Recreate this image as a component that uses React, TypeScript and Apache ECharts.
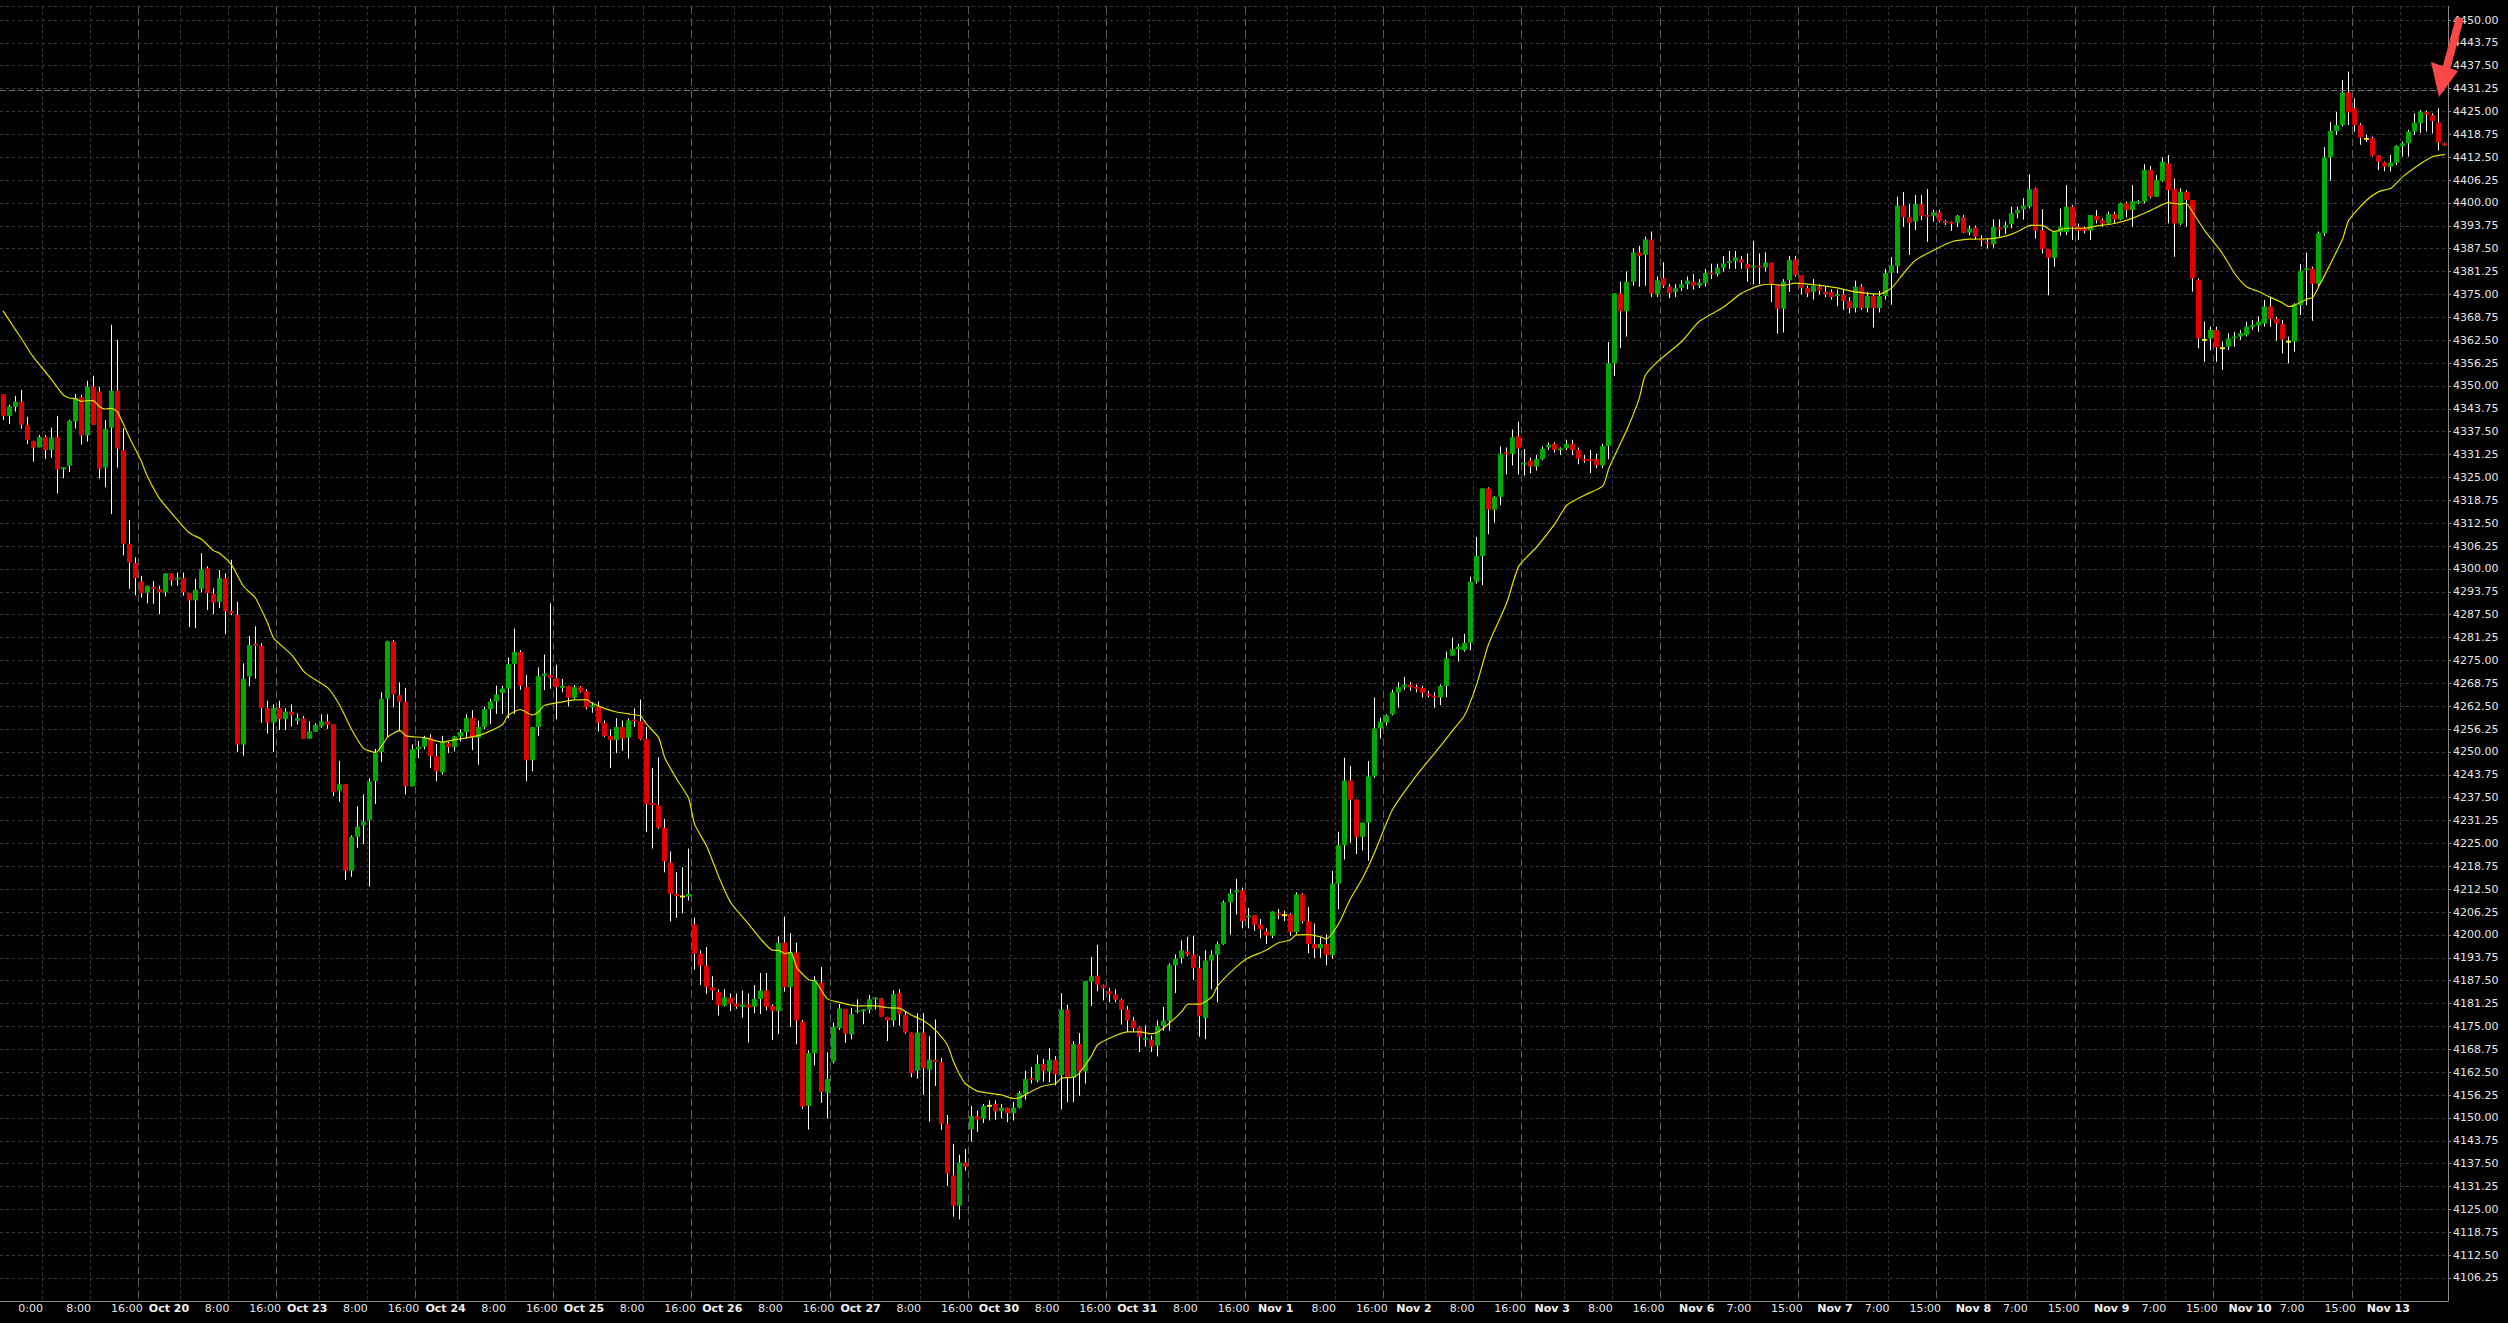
import React, { useEffect, useRef } from 'react';
import * as echarts from 'echarts';

// Each candle: [open, high, low, close] — hourly bars
const candlesOct19: number[][] = [
  [4347.8, 4347.8, 4340.7, 4341.8], [4341.8, 4344.8, 4339.6, 4344.4], [4344.3, 4347.3, 4343.0, 4345.7],
  [4345.7, 4348.9, 4338.3, 4339.4], [4339.4, 4341.6, 4334.1, 4335.3], [4335.0, 4335.0, 4329.3, 4333.2],
  [4333.2, 4336.6, 4333.2, 4336.1], [4336.1, 4336.6, 4330.1, 4332.5], [4332.5, 4338.6, 4330.4, 4335.9],
  [4336.1, 4341.8, 4320.6, 4327.2], [4327.2, 4327.8, 4324.8, 4327.8], [4328.2, 4340.7, 4326.5, 4340.4],
  [4340.3, 4347.8, 4338.4, 4346.7], [4347.0, 4347.6, 4334.0, 4336.5], [4336.5, 4351.4, 4334.8, 4349.8],
  [4349.8, 4352.8, 4339.4, 4339.4], [4348.5, 4349.8, 4324.7, 4327.4], [4327.7, 4340.7, 4322.3, 4338.3],
  [4338.6, 4366.7, 4315.0, 4348.7], [4348.7, 4362.6, 4327.7, 4332.9], [4332.5, 4338.5, 4303.7, 4306.9],
  [4306.8, 4313.4, 4294.6, 4301.7], [4301.6, 4303.2, 4292.8, 4297.5], [4296.6, 4298.1, 4292.2, 4293.4],
  [4293.5, 4295.4, 4290.6, 4295.4], [4295.0, 4296.7, 4290.5, 4294.6], [4294.5, 4295.4, 4287.6, 4293.6],
  [4293.6, 4298.8, 4292.5, 4298.8], [4298.8, 4298.8, 4295.4, 4296.8], [4297.1, 4299.0, 4295.4, 4297.6],
  [4297.5, 4299.0, 4292.7, 4293.6], [4293.4, 4293.4, 4284.1, 4291.4], [4291.4, 4297.3, 4283.8, 4294.3],
  [4294.6, 4304.3, 4293.6, 4299.9], [4300.2, 4300.7, 4288.8, 4293.4], [4293.2, 4294.7, 4287.6, 4290.8],
  [4291.0, 4299.7, 4289.3, 4297.5], [4297.5, 4298.8, 4282.2, 4288.4], [4288.5, 4302.5, 4287.4, 4287.9],
  [4287.4, 4291.0, 4250.0, 4252.0], [4252.0, 4274.2, 4249.0, 4270.0], [4270.6, 4281.7, 4268.0, 4279.2],
  [4279.5, 4284.3, 4270.0, 4279.1], [4279.0, 4279.7, 4258.0, 4262.0], [4262.0, 4264.0, 4255.0, 4258.0],
  [4258.0, 4263.0, 4250.0, 4262.0], [4262.0, 4264.0, 4256.0, 4259.0], [4259.0, 4262.0, 4256.0, 4261.0],
  [4261.0, 4263.0, 4257.0, 4260.0], [4258.5, 4260.5, 4257.5, 4259.2],
];

const candlesOct23: number[][] = [
  [4259.2, 4259.8, 4253.6, 4253.6], [4253.6, 4258.4, 4253.6, 4255.6], [4255.5, 4257.8, 4255.5, 4257.4],
  [4257.0, 4260.3, 4256.5, 4258.4], [4258.4, 4260.3, 4256.3, 4257.4], [4257.6, 4257.6, 4237.9, 4239.0],
  [4239.4, 4247.6, 4236.4, 4241.2], [4241.2, 4241.2, 4215.0, 4217.5], [4217.5, 4227.2, 4215.9, 4226.8],
  [4226.8, 4235.1, 4223.8, 4229.6], [4229.9, 4238.4, 4224.8, 4231.0], [4231.3, 4242.8, 4213.2, 4242.0],
  [4242.0, 4250.8, 4235.8, 4249.7], [4250.0, 4266.3, 4247.3, 4264.5], [4264.5, 4280.4, 4254.1, 4280.2],
  [4280.2, 4280.6, 4262.2, 4265.7], [4265.5, 4269.0, 4255.6, 4263.7], [4263.7, 4267.5, 4238.4, 4240.6],
  [4240.6, 4252.1, 4240.6, 4250.8], [4250.7, 4253.0, 4248.3, 4251.4], [4251.4, 4254.4, 4250.7, 4253.9],
  [4253.9, 4254.8, 4245.6, 4248.9], [4248.9, 4252.1, 4242.0, 4244.7], [4244.4, 4254.4, 4243.8, 4252.7],
  [4252.4, 4252.7, 4249.7, 4251.3], [4251.3, 4254.4, 4250.1, 4254.2], [4254.2, 4256.2, 4252.9, 4255.4],
  [4255.4, 4260.3, 4253.6, 4259.3], [4259.3, 4261.4, 4250.5, 4253.9], [4253.9, 4258.6, 4246.5, 4256.8],
  [4256.8, 4262.4, 4256.2, 4261.7], [4261.7, 4264.5, 4257.6, 4263.8], [4263.8, 4268.1, 4260.4, 4265.7],
  [4266.1, 4268.1, 4260.4, 4267.3], [4267.3, 4275.8, 4259.2, 4274.0], [4274.0, 4283.7, 4260.4, 4277.3],
  [4277.3, 4277.8, 4267.0, 4268.1], [4267.8, 4271.0, 4242.0, 4247.7], [4247.7, 4256.8, 4244.7, 4256.8],
  [4256.8, 4273.1, 4254.4, 4270.7], [4270.8, 4276.6, 4266.9, 4271.4], [4271.0, 4290.6, 4267.3, 4270.3],
  [4270.1, 4273.8, 4258.9, 4267.7], [4267.5, 4269.9, 4266.3, 4268.1], [4268.0, 4268.1, 4262.4, 4264.8],
  [4264.8, 4268.3, 4264.5, 4267.7], [4267.7, 4268.0, 4266.2, 4266.5], [4266.6, 4267.1, 4261.6, 4262.2],
  [4262.2, 4263.6, 4260.7, 4262.8], [4262.5, 4263.8, 4255.6, 4258.0], [4257.9, 4258.6, 4254.1, 4254.4],
  [4254.4, 4256.2, 4245.6, 4253.3], [4253.3, 4259.2, 4249.7, 4256.8], [4256.8, 4258.6, 4250.3, 4253.6],
  [4253.9, 4259.2, 4248.2, 4258.6], [4258.8, 4261.9, 4256.8, 4258.4], [4258.4, 4264.3, 4253.3, 4253.5],
  [4253.5, 4256.8, 4228.1, 4235.8], [4236.0, 4245.6, 4223.6, 4235.5], [4235.5, 4248.5, 4229.0, 4229.3],
  [4229.3, 4231.7, 4217.1, 4220.1], [4219.8, 4222.8, 4203.7, 4211.2], [4211.2, 4217.1, 4204.7, 4210.6],
  [4210.5, 4218.5, 4205.9, 4210.5], [4210.5, 4223.6, 4209.4, 4211.2], [4202.9, 4204.7, 4190.5, 4194.9],
  [4194.9, 4195.8, 4186.3, 4191.6], [4191.6, 4196.7, 4183.9, 4185.7], [4185.7, 4188.7, 4182.2, 4184.8],
  [4184.5, 4185.1, 4178.0, 4180.7], [4180.7, 4185.1, 4180.4, 4183.0], [4182.8, 4184.0, 4179.2, 4181.2],
  [4181.2, 4184.0, 4179.8, 4180.4], [4180.3, 4184.8, 4177.4, 4181.0], [4181.0, 4184.0, 4170.6, 4180.2],
  [4180.4, 4186.3, 4178.6, 4182.5], [4182.5, 4189.6, 4178.4, 4184.8], [4184.8, 4189.6, 4179.4, 4180.4],
  [4180.6, 4181.0, 4171.3, 4179.2], [4179.2, 4199.6, 4172.9, 4197.8], [4197.9, 4205.0, 4184.5, 4185.7],
  [4185.7, 4200.5, 4174.8, 4195.2], [4195.2, 4197.9, 4170.1, 4176.6], [4176.3, 4176.8, 4152.5, 4153.1],
  [4153.3, 4168.5, 4146.8, 4167.7], [4167.7, 4188.7, 4164.4, 4187.5],
];

const candlesOct27: number[][] = [
  [4187.0, 4191.2, 4154.1, 4157.1], [4156.9, 4167.9, 4149.8, 4160.6], [4165.4, 4176.0, 4164.9, 4174.8],
  [4174.5, 4181.1, 4174.0, 4179.9], [4179.8, 4179.8, 4170.5, 4173.0], [4172.8, 4180.1, 4171.5, 4178.3],
  [4179.0, 4182.4, 4178.6, 4179.4], [4179.1, 4179.7, 4175.6, 4179.7], [4179.6, 4183.6, 4178.6, 4182.4],
  [4182.4, 4182.9, 4179.6, 4182.9], [4182.6, 4182.8, 4177.6, 4177.6], [4177.6, 4177.6, 4171.0, 4176.6],
  [4176.6, 4184.8, 4175.0, 4183.8], [4184.1, 4185.1, 4175.2, 4178.3], [4178.1, 4179.1, 4173.0, 4173.3],
  [4173.3, 4173.3, 4161.1, 4162.2], [4162.9, 4178.6, 4160.7, 4173.3], [4173.3, 4178.6, 4156.3, 4163.6],
  [4163.1, 4172.3, 4149.0, 4165.9], [4165.9, 4176.9, 4158.7, 4165.3], [4165.2, 4166.4, 4146.7, 4148.4],
  [4148.4, 4150.8, 4131.4, 4134.8], [4134.3, 4142.9, 4123.0, 4126.0], [4126.0, 4139.9, 4122.3, 4137.8],
  [4137.8, 4141.5, 4135.6, 4136.6], [4146.9, 4153.3, 4143.5, 4150.5], [4150.5, 4152.0, 4146.2, 4149.5],
  [4149.8, 4153.8, 4148.6, 4153.3], [4153.3, 4154.8, 4149.3, 4153.3], [4153.8, 4154.8, 4149.5, 4151.8],
  [4151.8, 4153.8, 4149.8, 4152.8], [4152.8, 4152.8, 4148.8, 4151.3], [4151.3, 4154.3, 4149.3, 4152.8],
  [4152.8, 4157.3, 4152.6, 4156.8], [4156.6, 4162.9, 4155.0, 4160.6], [4160.9, 4163.9, 4159.4, 4160.4],
  [4160.2, 4167.2, 4159.7, 4164.7], [4164.7, 4166.1, 4159.9, 4162.9], [4162.7, 4169.0, 4159.7, 4165.9],
  [4165.9, 4166.9, 4158.9, 4161.9], [4161.7, 4184.1, 4152.3, 4179.6], [4179.6, 4180.9, 4154.3, 4160.9],
  [4160.9, 4171.0, 4154.3, 4170.2], [4170.2, 4173.2, 4156.0, 4162.7], [4162.7, 4187.4, 4159.4, 4187.4],
  [4187.2, 4194.0, 4180.6, 4188.7], [4188.9, 4197.3, 4184.6, 4186.4], [4186.2, 4186.4, 4182.1, 4185.4],
  [4184.6, 4185.4, 4181.6, 4183.8], [4183.8, 4185.1, 4181.6, 4182.3], [4182.3, 4182.6, 4175.5, 4179.6],
  [4179.6, 4180.6, 4173.5, 4176.6], [4176.6, 4177.6, 4173.5, 4174.5], [4174.7, 4175.0, 4168.0, 4172.2],
  [4171.4, 4175.3, 4169.5, 4171.8], [4171.4, 4172.5, 4168.0, 4169.5], [4169.7, 4176.6, 4166.8, 4175.2],
  [4175.2, 4180.3, 4173.8, 4176.6], [4176.6, 4192.2, 4173.8, 4191.7], [4191.7, 4194.7, 4184.1, 4193.5],
  [4193.7, 4198.5, 4192.2, 4195.8], [4195.5, 4199.5, 4194.2, 4194.6], [4194.6, 4199.8, 4187.7, 4190.9],
  [4190.9, 4194.2, 4172.2, 4177.8], [4177.3, 4195.8, 4171.5, 4193.0], [4193.0, 4195.8, 4185.1, 4194.6],
  [4194.5, 4198.1, 4181.6, 4197.5], [4197.5, 4209.4, 4197.3, 4208.9], [4208.9, 4212.6, 4200.1, 4211.4],
  [4211.6, 4215.3, 4205.6, 4212.2], [4212.2, 4212.9, 4201.8, 4203.8], [4204.8, 4207.4, 4201.8, 4205.2],
  [4205.4, 4205.4, 4201.1, 4202.8], [4202.8, 4204.3, 4199.1, 4201.5], [4201.0, 4201.8, 4197.5, 4199.8],
  [4199.8, 4206.4, 4199.1, 4206.4], [4205.9, 4207.1, 4204.3, 4205.4], [4205.4, 4206.6, 4203.8, 4205.4],
  [4205.6, 4205.9, 4199.8, 4200.8], [4200.8, 4211.6, 4200.3, 4211.1], [4211.1, 4211.4, 4203.1, 4203.8],
  [4203.7, 4207.6, 4195.0, 4197.5], [4197.5, 4203.1, 4193.7, 4196.3],
];

const candlesNov2: number[][] = [
  [4196.3, 4199.4, 4193.8, 4197.5], [4197.5, 4200.1, 4191.7, 4194.5], [4194.5, 4217.5, 4193.5, 4214.0],
  [4214.0, 4228.2, 4207.0, 4224.5], [4224.5, 4248.4, 4220.6, 4242.2], [4242.2, 4246.1, 4225.2, 4237.0],
  [4237.0, 4237.0, 4222.1, 4226.8], [4226.8, 4230.7, 4223.1, 4230.7], [4230.7, 4247.5, 4220.3, 4243.3],
  [4243.3, 4264.9, 4242.9, 4256.4], [4256.4, 4259.3, 4253.7, 4258.3], [4258.0, 4260.3, 4257.2, 4260.0],
  [4260.3, 4267.0, 4260.0, 4266.3], [4266.3, 4269.1, 4262.1, 4267.7], [4267.7, 4270.5, 4267.0, 4268.4],
  [4268.4, 4269.1, 4266.7, 4267.7], [4267.7, 4268.4, 4266.3, 4267.3], [4267.5, 4268.1, 4264.9, 4266.1],
  [4265.9, 4266.7, 4264.9, 4265.4], [4265.4, 4266.3, 4262.1, 4264.9], [4264.9, 4268.4, 4262.8, 4268.0],
  [4268.0, 4277.4, 4264.9, 4275.6], [4276.3, 4281.2, 4276.3, 4278.1], [4278.1, 4279.5, 4274.7, 4278.8],
  [4277.8, 4282.3, 4277.4, 4279.8], [4279.8, 4297.9, 4277.8, 4296.5], [4296.5, 4308.8, 4296.0, 4303.5],
  [4303.5, 4322.0, 4295.6, 4322.0], [4322.0, 4322.3, 4309.5, 4316.2], [4316.2, 4319.9, 4312.7, 4319.7],
  [4319.7, 4333.5, 4317.4, 4331.5], [4331.8, 4333.2, 4325.8, 4331.4], [4331.5, 4338.1, 4328.3, 4336.0],
  [4336.3, 4340.2, 4325.8, 4332.9], [4328.6, 4332.8, 4325.5, 4329.0], [4329.6, 4330.4, 4326.2, 4328.0],
  [4328.0, 4331.1, 4326.9, 4330.0], [4330.0, 4333.5, 4329.7, 4332.8], [4333.2, 4334.6, 4332.5, 4333.9],
  [4334.2, 4334.6, 4331.8, 4332.5], [4332.5, 4333.2, 4331.1, 4332.9], [4333.0, 4335.3, 4332.5, 4334.2],
  [4334.2, 4335.3, 4331.1, 4332.5], [4332.5, 4333.2, 4328.6, 4330.1], [4330.0, 4331.1, 4329.0, 4329.6],
  [4330.0, 4332.5, 4326.2, 4329.6], [4330.0, 4331.5, 4327.6, 4328.3], [4328.3, 4334.2, 4327.6, 4333.6],
  [4333.6, 4362.0, 4330.0, 4356.2], [4356.2, 4375.3, 4352.7, 4375.3], [4375.3, 4378.5, 4360.4, 4370.4],
  [4370.4, 4381.3, 4363.5, 4378.5], [4378.5, 4387.6, 4377.4, 4386.5], [4386.5, 4388.3, 4377.1, 4385.5],
  [4385.8, 4390.8, 4377.4, 4390.0], [4390.0, 4392.2, 4374.3, 4375.3], [4375.0, 4379.9, 4374.3, 4378.9],
  [4379.5, 4383.8, 4376.8, 4377.4], [4377.1, 4377.8, 4374.0, 4375.4], [4375.7, 4377.8, 4374.3, 4376.7],
  [4376.8, 4378.9, 4376.0, 4377.8], [4377.8, 4379.9, 4376.4, 4378.8], [4378.5, 4380.6, 4376.4, 4377.4],
  [4377.4, 4379.2, 4376.8, 4378.2], [4378.1, 4382.0, 4377.1, 4380.9], [4380.9, 4383.4, 4379.2, 4380.5],
  [4380.5, 4383.4, 4379.9, 4382.3], [4382.3, 4385.5, 4381.3, 4383.5], [4383.6, 4386.9, 4382.0, 4384.1],
  [4384.1, 4386.9, 4382.0, 4385.1], [4384.6, 4385.5, 4382.0, 4383.7], [4383.4, 4386.2, 4378.5, 4382.0],
  [4382.4, 4389.7, 4377.8, 4382.9], [4382.9, 4386.2, 4377.8, 4382.4], [4382.4, 4386.5, 4381.3, 4383.7],
  [4383.7, 4383.7, 4372.9, 4377.8], [4377.5, 4377.5, 4364.3, 4371.1], [4371.1, 4379.2, 4364.6, 4378.5],
  [4378.9, 4385.5, 4375.7, 4384.4], [4384.6, 4385.5, 4379.9, 4380.3], [4380.3, 4380.3, 4375.0, 4376.8],
  [4376.8, 4377.4, 4374.3, 4375.3], [4375.7, 4379.2, 4373.6, 4377.4], [4377.1, 4377.8, 4375.0, 4376.0],
  [4375.7, 4377.1, 4374.3, 4375.0], [4375.7, 4376.4, 4373.6, 4374.3], [4374.6, 4376.4, 4371.8, 4375.0],
  [4375.0, 4376.4, 4370.8, 4373.2], [4373.2, 4374.3, 4369.9, 4371.3], [4371.3, 4378.8, 4370.1, 4377.1],
  [4377.1, 4377.8, 4370.8, 4371.3], [4371.3, 4375.7, 4370.1, 4374.6], [4374.6, 4375.0, 4366.0, 4371.3],
  [4371.3, 4376.0, 4370.1, 4374.6], [4374.6, 4382.0, 4373.6, 4380.9], [4380.9, 4385.2, 4372.2, 4383.0],
];

const candlesNov8: number[][] = [
  [4382.8, 4401.7, 4380.8, 4399.3], [4399.3, 4403.0, 4393.5, 4396.1], [4396.1, 4399.7, 4385.8, 4394.6],
  [4394.9, 4402.2, 4392.6, 4399.7], [4399.7, 4402.2, 4395.3, 4396.5], [4396.7, 4403.8, 4389.4, 4396.3],
  [4396.5, 4398.1, 4394.9, 4397.5], [4397.5, 4398.1, 4394.7, 4395.1], [4395.1, 4395.3, 4394.0, 4394.6],
  [4394.8, 4394.9, 4392.4, 4394.3], [4394.6, 4396.7, 4393.5, 4396.5], [4396.1, 4396.7, 4391.7, 4391.9],
  [4391.9, 4393.8, 4391.2, 4393.0], [4393.3, 4393.8, 4389.9, 4390.8], [4390.2, 4391.2, 4388.1, 4389.8],
  [4389.2, 4390.3, 4387.6, 4388.7], [4388.7, 4395.5, 4387.8, 4393.5], [4393.3, 4395.5, 4390.8, 4392.9],
  [4393.2, 4394.9, 4391.5, 4393.9], [4394.2, 4399.0, 4393.1, 4397.2], [4397.2, 4399.0, 4395.8, 4398.1],
  [4398.3, 4401.3, 4395.5, 4399.3], [4399.0, 4407.8, 4398.5, 4403.8], [4404.0, 4404.2, 4390.3, 4392.4],
  [4392.6, 4398.3, 4386.2, 4387.4], [4387.4, 4387.4, 4374.8, 4385.0], [4385.0, 4392.1, 4382.6, 4392.1],
  [4392.1, 4398.5, 4391.1, 4393.5], [4392.1, 4404.9, 4391.2, 4399.0], [4399.0, 4399.4, 4389.9, 4393.5],
  [4393.5, 4394.4, 4389.9, 4392.4], [4393.1, 4393.5, 4391.7, 4392.4], [4392.5, 4396.7, 4389.9, 4396.7],
  [4396.5, 4398.1, 4394.4, 4395.3], [4395.3, 4395.8, 4393.5, 4394.4], [4394.4, 4397.6, 4394.0, 4397.0],
  [4397.0, 4397.6, 4394.4, 4395.5], [4395.5, 4400.1, 4395.3, 4399.9], [4399.9, 4400.4, 4396.1, 4398.1],
  [4398.1, 4404.9, 4393.5, 4400.5], [4399.9, 4400.8, 4399.7, 4400.5], [4400.4, 4410.6, 4399.9, 4409.0],
  [4409.0, 4410.1, 4401.3, 4401.7], [4401.7, 4407.6, 4401.7, 4406.3], [4406.1, 4412.5, 4405.8, 4411.3],
  [4410.8, 4413.1, 4394.4, 4403.5], [4403.8, 4406.7, 4385.3, 4394.4], [4394.4, 4404.0, 4394.0, 4403.1],
  [4403.1, 4403.5, 4393.5, 4400.8], [4400.8, 4400.8, 4375.8, 4379.4], [4379.0, 4379.4, 4360.3, 4363.0],
  [4362.6, 4367.6, 4356.6, 4362.6], [4363.0, 4366.2, 4359.8, 4365.3], [4365.3, 4366.2, 4356.6, 4360.5],
  [4360.3, 4362.1, 4354.4, 4360.3], [4360.7, 4364.4, 4359.8, 4363.0], [4363.0, 4364.8, 4360.7, 4363.5],
  [4363.5, 4365.3, 4362.6, 4364.4], [4363.9, 4367.6, 4363.5, 4366.2], [4366.2, 4368.0, 4365.3, 4366.6],
  [4366.5, 4369.0, 4364.8, 4367.6], [4367.1, 4373.5, 4366.2, 4371.7], [4371.7, 4374.4, 4366.2, 4368.3],
  [4368.3, 4368.9, 4362.4, 4367.1], [4366.9, 4368.0, 4358.9, 4362.7], [4362.1, 4363.5, 4356.2, 4362.1],
  [4362.1, 4372.6, 4359.4, 4372.3], [4372.1, 4383.3, 4369.4, 4381.5], [4381.7, 4386.4, 4372.1, 4382.1],
  [4382.1, 4382.6, 4367.8, 4377.9], [4377.9, 4392.2, 4377.1, 4391.7], [4391.7, 4415.2, 4391.0, 4412.5],
  [4412.5, 4422.2, 4406.1, 4419.7], [4419.7, 4424.9, 4418.6, 4421.3], [4421.3, 4433.6, 4420.9, 4430.2],
  [4430.2, 4435.9, 4421.3, 4424.7], [4425.9, 4428.6, 4419.5, 4421.3], [4421.3, 4421.8, 4415.9, 4417.8],
  [4417.5, 4418.6, 4416.7, 4417.5], [4417.7, 4418.1, 4412.7, 4413.0], [4413.0, 4413.1, 4409.0, 4411.3],
  [4411.1, 4411.3, 4408.7, 4409.9], [4409.9, 4413.1, 4408.6, 4411.0], [4411.0, 4415.8, 4410.4, 4415.6],
  [4415.6, 4416.8, 4412.7, 4416.3], [4416.3, 4420.0, 4412.7, 4419.5], [4419.5, 4424.5, 4418.6, 4421.9],
  [4421.8, 4425.4, 4419.2, 4425.0], [4424.8, 4425.2, 4419.5, 4424.2], [4424.0, 4424.5, 4419.0, 4422.4],
  [4422.0, 4425.9, 4414.3, 4416.5], [4416.3, 4416.5, 4415.6, 4415.8],
];

// Yellow moving-average line, read at [bar index, price]
const maPoints: number[][] = [
  [0, 4370.5], [3, 4363.1], [5, 4358.0], [8, 4351.9], [10, 4347.6], [11, 4346.7], [12, 4346.5], [13, 4345.8],
  [14, 4346.0], [15, 4346.0], [16, 4344.4], [17, 4343.7], [18, 4343.9], [19, 4343.0], [21, 4336.0], [23, 4329.4],
  [24, 4325.3], [26, 4319.3], [29, 4313.4], [31, 4309.8], [33, 4308.1], [35, 4305.0], [36, 4304.3], [38, 4301.1],
  [40, 4295.2], [42, 4292.0], [44, 4285.2], [45, 4281.1], [48, 4276.5], [50, 4272.0], [51, 4270.7], [54, 4267.5],
  [56, 4262.7], [58, 4256.0], [60, 4250.9], [62, 4249.9], [64, 4254.1], [66, 4255.9], [67, 4254.4], [70, 4253.9],
  [73, 4252.7], [75, 4253.3], [78, 4254.1], [80, 4255.0], [83, 4257.4], [84, 4260.0], [86, 4261.6], [88, 4260.1],
  [89, 4260.9], [90, 4262.7], [93, 4263.7], [95, 4264.2], [97, 4264.3], [98, 4263.3], [100, 4261.9], [102, 4260.9],
  [104, 4260.4], [106, 4259.8], [107, 4257.6], [109, 4253.9], [110, 4248.5], [112, 4242.6], [114, 4237.3],
  [115, 4230.2], [117, 4224.2], [119, 4215.9], [121, 4208.8], [124, 4202.9], [126, 4198.8], [128, 4195.8],
  [129, 4195.8], [130, 4194.9], [131, 4195.2], [132, 4191.0], [134, 4187.7], [135, 4187.5], [137, 4182.6],
  [139, 4181.6], [142, 4180.6], [145, 4180.6], [147, 4180.1], [149, 4180.0], [151, 4178.1], [153, 4176.6],
  [155, 4174.0], [157, 4170.0], [158, 4165.5], [159, 4162.0], [160, 4159.4], [162, 4157.3], [166, 4156.3],
  [168, 4155.3], [169, 4155.5], [171, 4157.3], [173, 4158.7], [175, 4159.4], [176, 4160.9], [178, 4161.1],
  [179, 4162.4], [181, 4167.0], [182, 4170.0], [185, 4172.5], [187, 4173.5], [189, 4173.5], [191, 4173.0],
  [192, 4173.5], [194, 4176.0], [196, 4179.1], [197, 4181.1], [199, 4181.1], [201, 4183.1], [202, 4186.2],
  [205, 4191.2], [207, 4193.7], [210, 4195.8], [212, 4197.8], [214, 4198.6], [215, 4200.0], [217, 4200.1],
  [219, 4199.5], [220, 4198.9], [222, 4202.9], [224, 4209.8], [226, 4215.4], [228, 4222.4], [231, 4234.2],
  [235, 4243.6], [238, 4249.6], [241, 4255.8], [243, 4260.0], [245, 4268.4], [247, 4279.5], [250, 4290.7],
  [252, 4300.7], [255, 4306.0], [258, 4312.3], [260, 4317.4], [263, 4320.2], [266, 4322.7], [267, 4327.6],
  [270, 4338.1], [272, 4346.4], [273, 4352.7], [275, 4356.5], [279, 4362.0], [282, 4367.6], [286, 4371.5],
  [289, 4375.3], [292, 4377.4], [294, 4377.8], [296, 4377.5], [298, 4378.1], [302, 4377.5], [305, 4376.8],
  [307, 4376.0], [310, 4375.3], [312, 4375.1], [314, 4376.8], [316, 4380.8], [318, 4384.4], [321, 4387.1],
  [324, 4389.4], [327, 4390.1], [330, 4390.2], [332, 4390.6], [334, 4391.5], [336, 4393.1], [337, 4393.9],
  [339, 4393.9], [341, 4392.2], [343, 4393.1], [346, 4393.1], [348, 4393.7], [351, 4394.4], [354, 4395.8],
  [357, 4397.9], [360, 4400.1], [362, 4399.7], [363, 4399.9], [364, 4397.6], [366, 4392.6], [369, 4386.2],
  [371, 4380.8], [373, 4377.1], [375, 4375.8], [377, 4374.2], [379, 4372.7], [380, 4371.7], [381, 4372.1],
  [383, 4373.7], [384, 4374.2], [385, 4377.1], [387, 4383.5], [389, 4390.3], [390, 4395.3], [393, 4400.8],
  [395, 4403.1], [397, 4404.0], [399, 4407.2], [402, 4410.8], [404, 4412.7], [406, 4413.3],
];

// Time-axis labels: bar boundary index and text
const labelBars = [
  7, 15, 23, 30, 38, 46, 53, 61, 69, 76, 84, 92, 99, 107, 115, 122, 130, 138, 145, 153, 161, 168, 176, 184,
  191, 199, 207, 214, 222, 230, 237, 245, 253, 260, 268, 276, 284, 291, 299, 307, 314, 322, 330, 337, 345,
  353, 360, 368, 376, 383, 391, 399,
];
const labelTexts = [
  '0:00', '8:00', '16:00', 'Oct 20', '8:00', '16:00', 'Oct 23', '8:00', '16:00', 'Oct 24', '8:00', '16:00',
  'Oct 25', '8:00', '16:00', 'Oct 26', '8:00', '16:00', 'Oct 27', '8:00', '16:00', 'Oct 30', '8:00', '16:00',
  'Oct 31', '8:00', '16:00', 'Nov 1', '8:00', '16:00', 'Nov 2', '8:00', '16:00', 'Nov 3', '8:00', '16:00',
  'Nov 6', '7:00', '15:00', 'Nov 7', '7:00', '15:00', 'Nov 8', '7:00', '15:00', 'Nov 9', '7:00', '15:00',
  'Nov 10', '7:00', '15:00', 'Nov 13',
];
const sessionBars = [23, 46, 69, 92, 115, 138, 161, 184, 207, 230, 253, 276, 299, 322, 345, 368, 391];

const priceMin = 4100;
const priceMax = 4453.75;
const priceStep = 6.25;
const markerPrice = 4430.9;

const UP = '#00a800';
const DOWN = '#dc0000';
const DOJI = '#ffff00';
const FONT = 'DejaVu Sans';

export default function App() {
  const ref = useRef<HTMLDivElement>(null);

  useEffect(() => {
    if (!ref.current) return;
    const chart = echarts.init(ref.current, undefined, { renderer: 'svg' });
    const candles = [...candlesOct19, ...candlesOct23, ...candlesOct27, ...candlesNov2, ...candlesNov8];
    const cats = candles.map((_, i) => String(i));
    const labelMap = new Map<number, string>();
    labelBars.forEach((b, j) => labelMap.set(b - 2, labelTexts[j]));
    const sessionSet = new Set(sessionBars);
    const gridSet = new Set(labelBars.filter((b) => !sessionSet.has(b)));
    const candleData = candles.map((c, i) => [i, c[0], c[3], c[2], c[1]]);

    chart.setOption({
      animation: false,
      backgroundColor: '#000000',
      grid: { left: 0, right: 60, top: 6.28, bottom: 22.13, containLabel: false },
      xAxis: [
        {
          type: 'category',
          data: cats,
          boundaryGap: true,
          axisLine: { show: true, lineStyle: { color: '#8a8a8a', width: 1 } },
          axisTick: { show: false },
          axisLabel: {
            show: true,
            interval: (idx: number) => labelMap.has(idx),
            formatter: (_v: string, idx: number) => {
              const t = labelMap.get(idx) || '';
              return /^[A-Z]/.test(t) ? `{d|${t}}` : `{t|${t}}`;
            },
            margin: 2,
            padding: [0, 5, 0, 0],
            rich: {
              d: { color: '#f0f0f0', fontFamily: FONT, fontSize: 11, fontWeight: 'bold' },
              t: { color: '#e6e6e6', fontFamily: FONT, fontSize: 11 },
            },
          },
          splitLine: {
            show: true,
            interval: (idx: number) => gridSet.has(idx),
            lineStyle: { color: '#3a3a3a', type: [3, 3], width: 1 },
          },
        },
        {
          type: 'category',
          data: cats,
          boundaryGap: true,
          gridIndex: 0,
          position: 'bottom',
          axisLine: { show: false },
          axisTick: { show: false },
          axisLabel: { show: false },
          splitLine: {
            show: true,
            interval: (idx: number) => sessionSet.has(idx),
            lineStyle: { color: '#5e5e5e', type: [8, 4], width: 1 },
          },
        },
      ],
      yAxis: {
        type: 'value',
        position: 'right',
        min: priceMin,
        max: priceMax,
        interval: priceStep,
        scale: true,
        axisLine: { show: true, lineStyle: { color: '#8a8a8a', width: 1 } },
        axisTick: { show: true, length: 3, lineStyle: { color: '#8a8a8a' } },
        axisLabel: {
          show: true,
          margin: 5,
          color: '#e6e6e6',
          fontFamily: FONT,
          fontSize: 11,
          showMinLabel: false,
          showMaxLabel: false,
          formatter: (v: number) => v.toFixed(2),
        },
        splitLine: { show: true, lineStyle: { color: '#3a3a3a', type: [3, 3], width: 1 } },
      },
      series: [
        {
          type: 'custom',
          name: 'candles',
          xAxisIndex: 0,
          yAxisIndex: 0,
          clip: true,
          encode: { x: 0, y: [1, 2, 3, 4] },
          data: candleData,
          renderItem: (_params: any, api: any) => {
            const i = api.value(0);
            const o = api.value(1);
            const c = api.value(2);
            const l = api.value(3);
            const h = api.value(4);
            const pO = api.coord([i, o]);
            const pC = api.coord([i, c]);
            const pH = api.coord([i, h]);
            const pL = api.coord([i, l]);
            const x0 = Math.round(pO[0] - 2.5);
            const xc = x0 + 2.5;
            let top = Math.min(pO[1], pC[1]);
            let bot = Math.max(pO[1], pC[1]);
            const color = c > o ? UP : c < o ? DOWN : DOJI;
            if (bot - top < 1.6) {
              const m = (top + bot) / 2;
              top = m - 0.9;
              bot = m + 0.9;
            }
            return {
              type: 'group',
              children: [
                { type: 'line', shape: { x1: xc, y1: pH[1], x2: xc, y2: pL[1] }, style: { stroke: '#ffffff', lineWidth: 1 } },
                { type: 'rect', shape: { x: x0, y: top, width: 5, height: bot - top }, style: { fill: color } },
              ],
            };
          },
          z: 3,
        },
        {
          type: 'line',
          name: 'MA',
          xAxisIndex: 0,
          data: maPoints.map((p) => [p[0], p[1]]),
          showSymbol: false,
          symbol: 'none',
          smooth: 0.2,
          lineStyle: { color: '#e0e000', width: 1.2 },
          z: 4,
          markLine: {
            silent: true,
            symbol: 'none',
            label: { show: false },
            lineStyle: { color: '#707070', type: [6, 3], width: 1 },
            data: [{ yAxis: markerPrice }],
          },
        },
      ],
      graphic: [
        {
          type: 'line',
          z: 100,
          shape: { x1: 2459, y1: 21, x2: 2447, y2: 66 },
          style: { stroke: '#fa4848', lineWidth: 8, lineCap: 'round' },
        },
        {
          type: 'polygon',
          z: 100,
          shape: { points: [[2431, 62], [2458, 71], [2439, 97]] },
          style: { fill: '#fa4848' },
        },
      ],
    });

    return () => {
      chart.dispose();
    };
  }, []);

  return (
    <div
      ref={ref}
      style={{ position: 'fixed', left: 0, top: 0, width: 2508, height: 1323, background: '#000' }}
    />
  );
}
